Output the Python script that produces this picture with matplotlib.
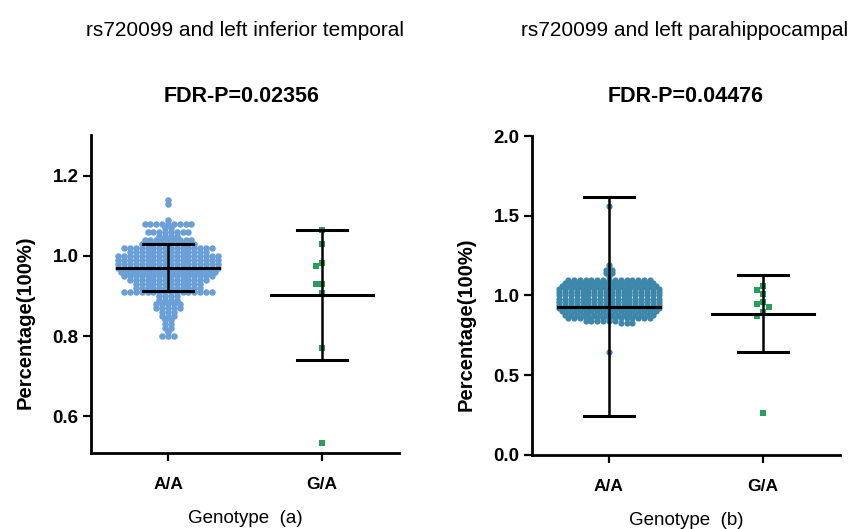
import numpy as np
import matplotlib
matplotlib.use("Agg")
import matplotlib.pyplot as plt

FAM = ["Liberation Sans", "DejaVu Sans"]

genotypes = ["A/A", "G/A"]

# panel (a): left inferior temporal, A/A read as row levels + dots per row
aa_left_levels = [1.14, 1.13, 1.09, 1.08, 1.07, 1.06, 1.05, 1.04, 1.03, 1.02, 1.01, 1.00,
                  0.99, 0.98, 0.97, 0.96, 0.95, 0.94, 0.93, 0.92, 0.91, 0.90, 0.89, 0.88,
                  0.87, 0.86, 0.85, 0.84, 0.83, 0.82, 0.81, 0.80]
aa_left_counts = [1, 1, 1, 9, 2, 8, 4, 9, 10, 16, 14, 18,
                  18, 18, 18, 17, 16, 14, 12, 12, 16, 4, 4, 5,
                  5, 3, 3, 2, 2, 2, 1, 3]
ga_left = [1.065, 1.03, 0.983, 0.976, 0.929, 0.929, 0.908, 0.771, 0.534]

# panel (b): left parahippocampal
aa_right_levels = [1.56, 1.19, 1.16, 1.14, 1.12, 1.10, 1.08, 1.06, 1.04, 1.02, 1.00,
                   0.98, 0.96, 0.94, 0.92, 0.90, 0.88, 0.86, 0.84, 0.83, 0.645]
aa_right_counts = [1, 1, 2, 2, 1, 15, 16, 17, 18, 18, 18,
                   18, 18, 18, 18, 17, 16, 15, 6, 3, 1]
ga_right = [1.058, 1.033, 1.012, 0.958, 0.944, 0.927, 0.896, 0.871, 0.262]

# mean, lower bar, upper bar for each group as drawn
left_stats = [(0.971, 0.912, 1.030), (0.903, 0.741, 1.065)]
right_stats = [(0.930, 0.244, 1.615), (0.887, 0.644, 1.126)]

titles = ["rs720099 and left inferior temporal", "rs720099 and left parahippocampal"]
pvals = ["FDR-P=0.02356", "FDR-P=0.04476"]
xlabels = ["Genotype  (a)", "Genotype  (b)"]


def swarm_x(values, center, row, dx):
    # put dots of the same row side by side, centred on the group
    values = np.asarray(values)
    rows = np.round(values / row).astype(int)
    xs = np.zeros(len(values))
    for r in np.unique(rows):
        idx = np.where(rows == r)[0]
        n = len(idx)
        xs[idx] = center + (np.arange(n) - (n - 1) / 2) * dx
    return xs


def bee_x(values, center, dx, yscale):
    # small beeswarm: shift a dot sideways only when it would touch one already placed
    # yscale = how many dx-widths one y unit spans on screen
    placed = []
    xs = []
    for v in values:
        for k in [0, -1, 1, -2, 2, -3, 3]:
            if all((k - pk) ** 2 + ((v - pv) * yscale) ** 2 >= 1.0 for pk, pv in placed):
                break
        placed.append((k, v))
        xs.append(center + k * dx)
    return np.array(xs)


def draw_bars(ax, stats):
    for i, (m, lo, hi) in enumerate(stats):
        ax.plot([i - 0.33, i + 0.33], [m, m], color="black", lw=2.2, zorder=5)
        ax.plot([i - 0.165, i + 0.165], [lo, lo], color="black", lw=2.2, zorder=5)
        ax.plot([i - 0.165, i + 0.165], [hi, hi], color="black", lw=2.2, zorder=5)
        ax.plot([i, i], [lo, hi], color="black", lw=1.8, zorder=5)


fig = plt.figure(figsize=(8.65, 5.29), dpi=100)
ax1 = fig.add_axes([0.1052, 0.1437, 0.3561, 0.6011])
ax2 = fig.add_axes([0.6150, 0.1399, 0.3561, 0.6030])

aa_left = np.repeat(aa_left_levels, aa_left_counts)
aa_right = np.repeat(aa_right_levels, aa_right_counts)

ax1.scatter(swarm_x(aa_left, 0, 0.01, 0.038), aa_left, s=22, color="#6a9fd8", lw=0, zorder=3)
ax1.scatter(bee_x(ga_left, 1, 0.039, 400 / 6), ga_left, s=18, marker="s", color="#2a9d5c", lw=0, zorder=3)
draw_bars(ax1, left_stats)
ax1.set_ylim(0.508, 1.302)
ax1.set_yticks([0.6, 0.8, 1.0, 1.2])

ax2.scatter(swarm_x(aa_right, 0, 0.02, 0.038), aa_right, s=20, color="#3d88aa", lw=0, zorder=3)
ax2.scatter(bee_x(ga_right, 1, 0.04, 160 / 6), ga_right, s=18, marker="s", color="#2a9d5c", lw=0, zorder=3)
draw_bars(ax2, right_stats)
ax2.set_ylim(0, 2.0)
ax2.set_yticks([0.0, 0.5, 1.0, 1.5, 2.0])
ax2.set_yticklabels(["0.0", "0.5", "1.0", "1.5", "2.0"])

for k, ax in enumerate([ax1, ax2]):
    ax.set_xlim(-0.5, 1.5)
    ax.set_xticks([0, 1])
    ax.set_xticklabels(genotypes, family=FAM, fontsize=12.5, fontweight="bold")
    for lab in ax.get_yticklabels():
        lab.set_family(FAM)
        lab.set_fontsize(13.5)
        lab.set_fontweight("bold")
    for s in ["top", "right"]:
        ax.spines[s].set_visible(False)
    for s in ["left", "bottom"]:
        ax.spines[s].set_linewidth(2)
    ax.tick_params(width=1.6, length=6, direction="out")
    ax.tick_params(axis="x", pad=11)
    ax.tick_params(axis="y", pad=3)
    ax.set_xlabel(xlabels[k], family=FAM, fontsize=13.5, labelpad=13)
    ax.set_ylabel("Percentage(100%)", family=FAM, fontsize=14.5, fontweight="bold")
    ax.yaxis.set_label_coords(-0.183, 0.41)

fig.text(0.283, 0.943, titles[0], family=FAM, fontsize=15, ha="center", va="center")
fig.text(0.791, 0.943, titles[1], family=FAM, fontsize=15, ha="center", va="center")
fig.text(0.279, 0.817, pvals[0], family=FAM, fontsize=15.5, fontweight="bold", ha="center", va="center")
fig.text(0.793, 0.817, pvals[1], family=FAM, fontsize=15.5, fontweight="bold", ha="center", va="center")

fig.savefig("out.png", dpi=100)
